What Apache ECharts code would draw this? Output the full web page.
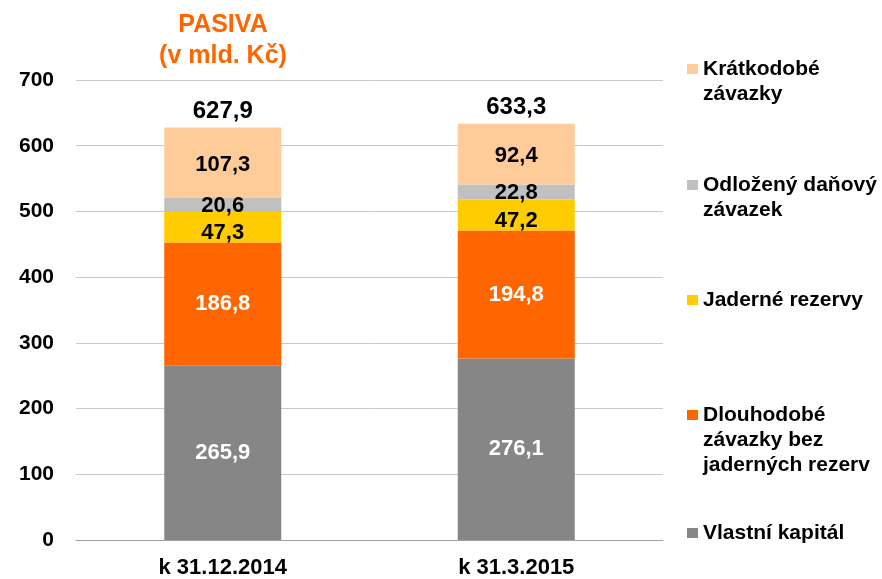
<!DOCTYPE html>
<html>
<head>
<meta charset="utf-8">
<script src="https://cdn.jsdelivr.net/npm/echarts@6/dist/echarts.min.js"></script>
<style>
  html, body { margin: 0; padding: 0; background: #fff; }
  #pasivaChart { width: 882px; height: 579px; }
</style>
</head>
<body>
<div id="pasivaChart"></div>
<script>
// kategorie a hodnoty (mld. Kč)
var categories = ['k 31.12.2014', 'k 31.3.2015'];
var vlastniKapital = [265.9, 276.1];
var dlouhodobe = [186.8, 194.8];
var jaderne = [47.3, 47.2];
var odlozeny = [20.6, 22.8];
var kratkodobe = [107.3, 92.4];
var totals = [627.9, 633.3];
var yTicks = [0, 100, 200, 300, 400, 500, 600, 700];

var FONT = '"Liberation Sans", Arial, sans-serif';

function fmt(v) {
  return v.toFixed(1).replace('.', ',');
}

// legenda: kazda polozka zvlast, znacka u prvniho radku textu
var legendItems = [
  { name: 'Krátkodobé\nzávazky', lines: 2, center: 69 },
  { name: 'Odložený daňový\nzávazek', lines: 2, center: 185 },
  { name: 'Jaderné rezervy', lines: 1, center: 300 },
  { name: 'Dlouhodobé\nzávazky bez\njaderných rezerv', lines: 3, center: 415 },
  { name: 'Vlastní kapitál', lines: 1, center: 533 }
];
var LINE_H = 25;

var legends = legendItems.map(function (it) {
  // ctverecek nahore, pod nim prazdne misto -> znacka sedi u prvniho radku
  var h = 10 + (it.lines - 1) * LINE_H;
  return {
    orient: 'vertical',
    left: 687,
    top: it.center - LINE_H / 2,
    padding: 0,
    itemWidth: 11,
    itemHeight: h,
    itemGap: 0,
    icon: 'path://M0,0L11,0L11,10L0,10Z M0,' + h,
    selectedMode: false,
    data: [it.name],
    textStyle: {
      fontFamily: FONT,
      fontWeight: 'bold',
      fontSize: 21,
      color: '#000',
      lineHeight: LINE_H
    }
  };
});

function segment(name, data, color, labelColor, offset) {
  return {
    name: name,
    type: 'bar',
    stack: 'pasiva',
    barWidth: 117,
    data: data,
    itemStyle: { color: color },
    label: {
      show: true,
      position: 'inside',
      offset: offset || [0, 0],
      color: labelColor,
      fontFamily: FONT,
      fontWeight: 'bold',
      fontSize: 22,
      formatter: function (p) { return fmt(p.value); }
    }
  };
}

var chart = echarts.init(document.getElementById('pasivaChart'));
chart.setOption({
  animation: false,
  title: {
    text: 'PASIVA\n(v mld. Kč)',
    left: 218,
    top: 5,
    textAlign: 'center',
    textStyle: {
      color: '#FF6600',
      fontFamily: FONT,
      fontWeight: 'bold',
      fontSize: 25,
      lineHeight: 31
    }
  },
  legend: legends,
  grid: { left: 76, right: 219, top: 80, bottom: 38, containLabel: false },
  xAxis: {
    type: 'category',
    data: categories,
    axisTick: { show: false },
    axisLine: { lineStyle: { color: '#A0A0A0', width: 1 } },
    axisLabel: {
      margin: 17,
      color: '#000',
      fontFamily: FONT,
      fontWeight: 'bold',
      fontSize: 22
    }
  },
  yAxis: {
    type: 'value',
    min: yTicks[0],
    max: yTicks[yTicks.length - 1],
    interval: 100,
    axisLine: { show: false },
    axisTick: { show: false },
    splitLine: { lineStyle: { color: '#C8C8C8', width: 1 } },
    axisLabel: {
      margin: 22,
      color: '#000',
      fontFamily: FONT,
      fontWeight: 'bold',
      fontSize: 21
    }
  },
  series: [
    segment('Vlastní kapitál', vlastniKapital, '#868686', '#fff'),
    segment('Dlouhodobé\nzávazky bez\njaderných rezerv', dlouhodobe, '#FF6600', '#fff'),
    segment('Jaderné rezervy', jaderne, '#FFCC00', '#000', [0, 6]),
    segment('Odložený daňový\nzávazek', odlozeny, '#C0C0C0', '#000', [0, 1]),
    segment('Krátkodobé\nzávazky', kratkodobe, '#FFCC99', '#000', [0, 2]),
    {
      name: 'celkem',
      type: 'bar',
      stack: 'pasiva',
      barWidth: 117,
      data: [0, 0],
      itemStyle: { color: 'transparent' },
      label: {
        show: true,
        position: 'top',
        distance: 4,
        color: '#000',
        fontFamily: FONT,
        fontWeight: 'bold',
        fontSize: 24,
        formatter: function (p) { return fmt(totals[p.dataIndex]); }
      }
    }
  ]
});
</script>
</body>
</html>
